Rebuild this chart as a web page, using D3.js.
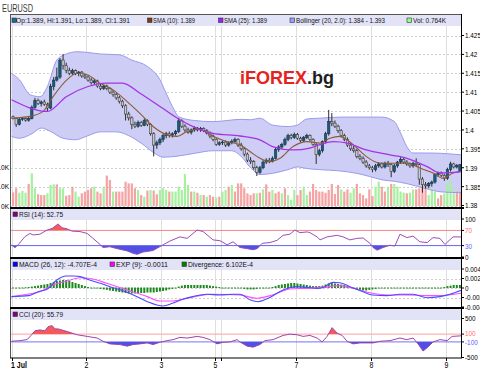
<!DOCTYPE html>
<html><head><meta charset="utf-8">
<script src="https://cdn.jsdelivr.net/npm/d3@7/dist/d3.min.js"></script>
<style>html,body{margin:0;padding:0;background:#fff;}svg{display:block;}text{font-family:"Liberation Sans",Arial,sans-serif;}</style>
</head><body>
<svg id="chart" width="480" height="370"></svg>
<script>
// ---------------- DATA ----------------
const symbol = "EURUSD";
const dayTicks = [0,24,48,65,67,91,115,139];
const dayLabels = ["1 Jul","2","3","5","","7","8","9"];
const priceTicks = [1.38,1.385,1.39,1.395,1.4,1.405,1.41,1.415,1.42,1.425];
const priceLabels = ["1.38","1.385","1.39","1.395","1.4","1.405","1.41","1.415","1.42","1.425"];
const volTicks = [0,1,2];
const volLabels = ["0K","1.0K","2.0K"];
const rsiTicks = [0,30,70,100];
const rsiLabels = ["0","30","70","100"];
const macdTicks = [-0.004,-0.002,0,0.002,0.004];
const macdLabels = ["-0.004","-0.002","0","0.002","0.004"];
const cciTicks = [-500,-100,100,500];
const cciLabels = ["-500","-100","100","500"];

const open = [1.4035,1.4030,1.4015,1.4028,1.4030,1.4026,1.4030,1.4060,1.4078,1.4070,1.4074,1.4068,1.4058,1.4115,1.4132,1.4140,1.4185,1.4170,1.4158,1.4150,
1.4157,1.4150,1.4153,1.4143,1.4140,1.4132,1.4125,1.4130,1.4116,1.4110,1.4116,1.4110,1.4100,1.4094,1.4085,1.4076,1.4064,1.4042,1.4032,1.4015,
1.4010,1.4020,1.4012,1.4025,1.4015,1.3990,1.3960,1.3966,1.3975,1.3985,1.3990,1.3986,1.3990,1.3996,1.4024,1.4010,1.4000,1.3994,1.4000,1.4005,
1.4000,1.4004,1.3998,1.3992,1.3984,1.3975,1.3962,1.3966,1.3968,1.3960,1.3966,1.3970,1.3975,1.3960,1.3950,1.3936,1.3920,1.3916,1.3900,1.3888,
1.3900,1.3915,1.3920,1.3917,1.3925,1.3948,1.3955,1.3962,1.3975,1.3985,1.3980,1.3988,1.3978,1.3972,1.3980,1.3985,1.3975,1.3962,1.3935,1.3945,
1.3970,1.3990,1.4022,1.4018,1.4010,1.3998,1.3985,1.3975,1.3960,1.3950,1.3945,1.3930,1.3925,1.3915,1.3905,1.3900,1.3895,1.3905,1.3910,1.3902,
1.3912,1.3908,1.3890,1.3905,1.3915,1.3922,1.3915,1.3910,1.3905,1.3912,1.3908,1.3870,1.3855,1.3852,1.3858,1.3862,1.3882,1.3886,1.3880,1.3872,
1.3895,1.3910,1.3902,1.3890];
const high = [1.4038,1.4033,1.4032,1.4034,1.4033,1.4036,1.4065,1.4085,1.4083,1.4078,1.4080,1.4072,1.4122,1.4140,1.4165,1.4190,1.4201,1.4178,1.4165,1.4162,
1.4160,1.4156,1.4156,1.4150,1.4145,1.4138,1.4135,1.4133,1.4122,1.4120,1.4120,1.4113,1.4106,1.4098,1.4090,1.4080,1.4068,1.4048,1.4036,1.4022,
1.4025,1.4024,1.4030,1.4028,1.4018,1.3994,1.3972,1.3980,1.3990,1.3995,1.3996,1.3994,1.4000,1.4032,1.4028,1.4015,1.4006,1.4004,1.4010,1.4008,
1.4008,1.4007,1.4002,1.3996,1.3988,1.3978,1.3970,1.3972,1.3972,1.3970,1.3975,1.3980,1.3978,1.3966,1.3955,1.3940,1.3928,1.3920,1.3905,1.3905,
1.3920,1.3925,1.3926,1.3930,1.3952,1.3960,1.3966,1.3980,1.3990,1.3990,1.3993,1.3992,1.3982,1.3984,1.3990,1.3988,1.3978,1.3965,1.3950,1.3972,
1.3995,1.4053,1.4045,1.4025,1.4014,1.4002,1.3990,1.3980,1.3965,1.3958,1.3950,1.3936,1.3930,1.3920,1.3910,1.3905,1.3910,1.3915,1.3914,1.3916,
1.3918,1.3912,1.3910,1.3918,1.3928,1.3926,1.3920,1.3914,1.3916,1.3925,1.3912,1.3875,1.3862,1.3862,1.3866,1.3886,1.3890,1.3890,1.3884,1.3900,
1.3916,1.3913,1.3910,1.3910];
const low = [1.4028,1.4008,1.4012,1.4024,1.4022,1.4022,1.4028,1.4056,1.4066,1.4062,1.4064,1.4048,1.4055,1.4105,1.4128,1.4135,1.4160,1.4150,1.4145,1.4146,
1.4145,1.4142,1.4138,1.4135,1.4128,1.4120,1.4120,1.4112,1.4105,1.4106,1.4105,1.4095,1.4088,1.4080,1.4070,1.4058,1.4025,1.4025,1.4002,1.4005,
1.4006,1.4008,1.4010,1.4010,1.3985,1.3930,1.3950,1.3960,1.3968,1.3978,1.3980,1.3980,1.3985,1.3992,1.4005,1.3995,1.3990,1.3988,1.3995,1.3996,
1.3995,1.3994,1.3988,1.3978,1.3970,1.3958,1.3958,1.3960,1.3955,1.3956,1.3962,1.3965,1.3955,1.3945,1.3930,1.3915,1.3910,1.3895,1.3878,1.3884,
1.3896,1.3910,1.3912,1.3914,1.3922,1.3942,1.3950,1.3958,1.3970,1.3975,1.3976,1.3974,1.3968,1.3968,1.3976,1.3970,1.3958,1.3910,1.3930,1.3940,
1.3965,1.3985,1.4010,1.4005,1.3992,1.3980,1.3970,1.3955,1.3945,1.3940,1.3925,1.3920,1.3910,1.3900,1.3895,1.3888,1.3890,1.3900,1.3898,1.3898,
1.3902,1.3875,1.3886,1.3900,1.3910,1.3910,1.3905,1.3900,1.3900,1.3904,1.3855,1.3834,1.3845,1.3846,1.3850,1.3858,1.3876,1.3875,1.3865,1.3868,
1.3890,1.3898,1.3898,1.3889];
const close = [1.4030,1.4015,1.4028,1.4030,1.4026,1.4030,1.4060,1.4078,1.4070,1.4074,1.4068,1.4058,1.4115,1.4132,1.4140,1.4185,1.4170,1.4158,1.4150,1.4157,
1.4150,1.4153,1.4143,1.4140,1.4132,1.4125,1.4130,1.4116,1.4110,1.4116,1.4110,1.4100,1.4094,1.4085,1.4076,1.4064,1.4042,1.4032,1.4015,1.4010,
1.4020,1.4012,1.4025,1.4015,1.3990,1.3960,1.3966,1.3975,1.3985,1.3990,1.3986,1.3990,1.3996,1.4024,1.4010,1.4000,1.3994,1.4000,1.4005,1.4000,
1.4004,1.3998,1.3992,1.3984,1.3975,1.3962,1.3966,1.3968,1.3960,1.3966,1.3970,1.3975,1.3960,1.3950,1.3936,1.3920,1.3916,1.3900,1.3888,1.3900,
1.3915,1.3920,1.3917,1.3925,1.3948,1.3955,1.3962,1.3975,1.3985,1.3980,1.3988,1.3978,1.3972,1.3980,1.3985,1.3975,1.3962,1.3935,1.3945,1.3970,
1.3990,1.4022,1.4018,1.4010,1.3998,1.3985,1.3975,1.3960,1.3950,1.3945,1.3930,1.3925,1.3915,1.3905,1.3900,1.3895,1.3905,1.3910,1.3902,1.3912,
1.3908,1.3890,1.3905,1.3915,1.3922,1.3915,1.3910,1.3905,1.3912,1.3908,1.3870,1.3855,1.3852,1.3858,1.3862,1.3882,1.3886,1.3880,1.3872,1.3895,
1.3910,1.3902,1.3906,1.3908];
const volume = [0.70,0.91,0.68,0.77,0.68,1.13,1.68,0.91,0.60,0.56,0.56,0.65,1.08,1.11,1.11,0.91,0.91,0.53,0.56,0.99,
0.74,0.48,0.65,0.74,0.82,0.91,0.99,0.74,0.65,0.99,1.56,1.33,0.74,0.74,0.74,0.74,1.25,1.16,1.16,0.91,
0.82,0.56,0.48,0.79,0.82,0.79,0.60,0.82,0.91,0.82,0.74,0.74,0.74,0.99,0.82,1.64,1.08,0.74,0.74,0.68,
0.56,0.56,0.48,0.56,0.48,0.44,0.48,0.74,0.82,0.99,1.08,0.74,1.16,
1.16,0.91,0.65,0.56,0.65,0.65,0.68,0.85,1.11,0.74,0.82,0.65,0.74,0.65,0.91,0.56,0.31,0.82,0.56,0.82,
0.99,0.56,0.74,1.13,0.82,0.74,0.74,0.68,0.82,1.13,0.62,1.08,0.85,0.74,0.85,0.68,0.91,1.13,0.65,0.56,
0.39,0.85,0.51,0.99,1.25,0.99,0.74,0.99,1.13,1.13,0.99,0.74,0.68,0.65,0.68,0.85,0.85,0.91,0.99,0.96,
0.56,0.91,0.74,0.39,0.56,0.65,1.16,1.25,0.82,0.74,0.74];
const volumeUp = [0,0,1,1,1,0,1,1,0,0, 0,1,1,1,0,1,1,0,0,0, 1,1,0,0,0,0,1,0,0,1, 0,0,1,0,0,0,0,0,0,0,
1,0,1,0,1,0,0,1,1,1, 0,1,1,1,1,1,1,0,1,0, 1,0,1,0,0,1,0, 1,1,0,1,0,0,
0,0,0,0,0,1,0,1,0,0, 1,0,0,1,0,1,1,1,0,0, 1,1,0,0,0,0,0,0,0,0, 0,0,1,0,0,1,1,0,0,0,
0,0,0,1,1,0,0,1,0,1, 1,1,1,0,1,1,0,0,0,0, 1,1,1,0,0,1,1,1,1,0, 0];

// Bollinger (20, 2.0) and SMAs: [candle index, price]
const bbUpper = [[-0.5,1.4150],[2,1.4133],[5.5,1.4093],[8.6,1.4088],[11,1.4115],[14,1.4185],[17,1.4201],[20.5,1.4207],[24,1.4205],[28,1.4201],[34,1.4199],[38,1.4185],[43,1.4168],[47,1.4133],[49,1.4097],[51,1.4062],[53,1.4035],[58,1.4025],[64,1.4022],[73,1.4028],[76,1.4027],[79,1.4031],[83,1.4013],[88,1.4009],[91,1.4013],[94,1.4029],[98,1.4031],[105,1.4034],[113,1.4034],[118,1.4034],[122,1.4022],[124,1.3992],[126,1.3956],[128,1.3939],[132,1.3939],[137,1.3938],[143.5,1.3934]];
const bbLower = [[-0.5,1.3983],[2,1.3978],[6,1.3990],[9,1.4005],[12,1.3996],[16,1.3978],[20,1.3974],[24,1.3985],[28,1.3995],[33,1.3995],[37,1.3985],[41,1.3965],[45,1.3940],[48,1.3928],[52,1.3930],[58,1.3938],[64,1.3945],[70,1.3945],[73,1.3930],[76,1.3900],[79,1.3882],[83,1.3885],[88,1.3895],[91,1.3902],[94,1.3898],[98,1.3895],[104,1.3892],[110,1.3885],[114,1.3877],[118,1.3868],[122,1.3864],[126,1.3858],[132,1.3845],[137,1.3836],[143.5,1.3834]];
const sma25 = [[-0.5,1.4080],[11,1.4049],[17,1.4088],[24,1.4115],[30,1.4124],[35,1.4124],[40.6,1.4097],[47,1.4062],[53.4,1.4027],[57.6,1.4009],[64,1.3991],[72.6,1.3984],[79,1.3974],[83,1.3956],[89.6,1.3947],[95,1.3952],[98.2,1.3961],[102.4,1.3969],[107,1.3965],[113,1.3947],[120.6,1.3934],[126,1.3925],[132.5,1.3903],[136.6,1.3886],[143.5,1.3890]];
const sma10 = [[-0.5,1.4031],[5.4,1.4036],[9.6,1.4049],[12.8,1.4088],[17.3,1.4133],[20.5,1.4150],[23.7,1.4146],[27.8,1.4124],[32,1.4106],[36.5,1.4075],[40.6,1.4044],[44.8,1.4009],[49.3,1.3987],[52.5,1.3983],[55.7,1.3996],[59.8,1.4002],[64,1.3983],[68.5,1.3969],[72.6,1.3961],[75.8,1.3943],[79,1.3925],[82.2,1.3916],[85.4,1.3925],[89.6,1.3956],[94.1,1.3969],[98.2,1.3965],[101.4,1.3978],[104.6,1.3983],[108.8,1.3961],[113,1.3930],[117.4,1.3912],[121.6,1.3912],[126,1.3912],[130.2,1.3899],[134.4,1.3886],[137.6,1.3872],[140.8,1.3886],[143.5,1.3890]];

// RSI (14): [candle index, value]
const rsi = [[-0.5,31.6],[0.6,24.6],[1.6,32],[3.8,53.5],[5.4,62],[6.4,58],[8.6,60],[10.9,71],[12.5,75],[14.4,87],[15.7,77],[17.3,74],[18.9,68],[21.4,67],[23.7,62],[25.6,49],[27.8,33],[28.8,25],[31,27],[33.3,22],[36.5,16],[38.4,9.6],[39.7,7],[41.6,13],[44.8,17],[48,32],[50.2,42],[53.4,53],[55.7,49],[58.9,71],[60.8,67],[64,45],[66.2,43],[68.5,32],[70.4,40],[72.6,25],[74.9,22],[76.8,19],[78.1,22],[79.7,36],[82.2,38],[84.5,44],[86.4,57],[88.6,60],[90.2,71],[91.8,64],[94.1,66],[95,64],[97.3,53],[98.2,45],[100.5,53],[103.7,57],[105.6,53],[107.8,45],[110,49],[112,50],[114.2,36],[115.2,25],[116.5,18],[118.4,25],[120.6,31],[122.2,29],[123.8,60],[126,51],[128,55],[130.2,40],[132.5,38],[134.4,51],[136.6,49],[138.2,33],[140.8,53],[143.5,52.75]];

// MACD (26,12), EXP (9) signal: [candle index, value]; divergence per candle
const macd = [[-0.5,-0.00182],[5,-0.00161],[8,-0.00077],[11,-0.00021],[14,0.00168],[17,0.00253],[19.5,0.00253],[21.5,0.00239],[24.5,0.00168],[28,0.00098],[31,0.00028],[34.5,-0.00042],[38.5,-0.00147],[43,-0.00288],[46,-0.00358],[48,-0.00379],[51,-0.00323],[54.5,-0.00232],[57.5,-0.00182],[62,-0.00133],[66,-0.00147],[70.5,-0.00133],[72.6,-0.00133],[76,-0.00253],[78.4,-0.00288],[82,-0.00204],[86.4,-0.00042],[91,0.00028],[94,0.00014],[97.3,-0.00007],[99,0.00007],[102.4,0.00119],[104.6,0.00112],[107.8,0.00028],[112,-0.00077],[115,-0.00147],[119.7,-0.00161],[123.8,-0.00133],[128,-0.00133],[132.5,-0.00204],[136.6,-0.00182],[139.8,-0.00133],[143.5,-0.00047]];
const signal = [[-0.5,-0.00182],[4.5,-0.00133],[8.6,-0.00077],[12.8,0.00063],[17.3,0.00147],[21.4,0.00217],[25.6,0.00189],[30,0.00098],[36.5,-0.00042],[43,-0.00182],[47,-0.00274],[51,-0.00274],[55.7,-0.00217],[59.8,-0.00161],[64,-0.00133],[72.6,-0.00147],[78,-0.00217],[83,-0.00147],[88.6,-0.00021],[94,-0.00007],[99,0.00014],[104.6,0.00049],[108.8,-0.00007],[115,-0.00112],[119.7,-0.00147],[126,-0.00147],[132.5,-0.00161],[136.6,-0.00161],[143.5,-0.00110]];
const divergence = [0.0001,0.0001,0.0001,0.0001,0.00015,0.0002,
0.0003,0.0004,0.0005,0.00063,0.00074,0.00084,
0.00105,0.00126,0.00147,0.00158,0.00168,0.00168,0.00147,
0.00126,0.00105,0.00084,0.00063,0.0004,0.0002,
0,-0.0001,-0.0002,
-0.0003,-0.0004,-0.0005,-0.00063,-0.00074,-0.00084,-0.00095,-0.00105,
-0.00116,-0.00126,-0.00126,-0.00126,-0.00126,-0.00116,-0.00116,-0.00105,-0.00105,-0.00105,-0.00095,
-0.00084,-0.00074,-0.00063,-0.0004,-0.0003,-0.0001,
0.0003,0.0005,0.00063,0.00063,0.00063,0.00063,0.00063,0.00063,0.00063,0.00063,0.0005,0.0004,
0.0003,0.0002,0.0001,0.0001,0.0001,0,-0.0001,-0.0002,
-0.0002,-0.0003,-0.0004,-0.0004,-0.0004,-0.0003,-0.0002,
-0.0001,0,0.0001,0.0002,0.0004,
0.00063,0.00074,0.00084,0.00095,0.00105,0.00105,0.00095,0.00084,0.00074,0.00063,
0.0005,0.0004,0.0004,0.0004,
0.0005,0.00074,0.00095,0.00105,0.00095,0.00084,
0.00074,0.00063,0.0004,0.0002,
-0.0002,-0.0004,-0.0005,-0.00063,-0.00063,-0.0005,-0.0004,-0.0003,
-0.0002,-0.0002,-0.0001,-0.0001,-0.0001,
0.0001,0.0001,0.0001,0.0001,0.0001,0.0001,0.0001,0.0001,-0.0001,-0.0001,-0.0001,-0.0001,-0.0001,-0.0001,0,0.0001,0.0002,
0.0004,0.0005,0.00063,0.00063,0.00063];

// CCI (20): [candle index, value]
const cci = [[-0.5,-84],[2.2,-68],[4.5,-42],[6.1,99],[7,183],[8.6,208],[10.2,183],[11.2,291],[12.5,316],[13.4,233],[14.4,233],[17.3,166],[20.5,83],[23.7,41],[26.9,-1],[28.8,-84],[31,-151],[34.2,-168],[36.5,-209],[38.4,-168],[40.6,-151],[42.9,-126],[44.8,-168],[47,-109],[49.3,-68],[51.2,-42],[53.4,16],[55.7,-1],[58.9,41],[60.8,16],[63,-42],[65.3,-151],[67.2,-109],[69.4,-101],[71.7,-42],[72.6,-101],[74.9,-209],[76.8,-234],[79,-168],[80.6,-68],[83.2,-42],[86.4,66],[88.6,99],[90.9,83],[92.8,41],[95,66],[97.3,-1],[98.9,-101],[100.5,41],[102.1,266],[103.7,124],[105.3,66],[106.9,-84],[108.8,-151],[111,-126],[115.2,-126],[117.4,-84],[120.6,-68],[123.8,-1],[126,-42],[128,-1],[129.6,-151],[131.2,-334],[132.5,-251],[134.4,-101],[136.6,-42],[138.9,-68],[140.5,41],[143.5,56]];

const legendMain = ["Op:1.389, Hi:1.391, Lo:1.389, Cl:1.391","SMA (10): 1.389","SMA (25): 1.389","Bollinger (20, 2.0): 1.384 - 1.393","Vol: 0.764K"];
const legendRsi = ["RSI (14): 52.75"];
const legendMacd = ["MACD (26, 12): -4.707E-4","EXP (9): -0.0011","Divergence: 6.102E-4"];
const legendCci = ["CCI (20): 55.79"];

// ---------------- DRAW ----------------
const svg = d3.select('#chart');
const L = 11, R = 461;
const x = d3.scaleLinear().domain([0,144]).range([11.5,461.5]);
const cx = i => x(i + 0.5);
const yP = d3.scaleLinear().domain([1.38,1.425]).range([205.5,35.5]);
const yV = d3.scaleLinear().domain([0,2]).range([206,167]);
const yR = d3.scaleLinear().domain([0,100]).range([257,219]);
const yM = d3.scaleLinear().domain([-0.004,0.004]).range([307,269]);
const yC = d3.scaleLinear().domain([-500,500]).range([357.5,318.5]);

svg.append('rect').attr('width',480).attr('height',370).attr('fill','#fff');
const defs = svg.append('defs');
function clipRect(id,y0,y1){ defs.append('clipPath').attr('id',id).append('rect').attr('x',L).attr('y',y0).attr('width',R-L).attr('height',y1-y0); return `url(#${id})`; }

function txt(p, xx, yy, s, o={}) {
  const t = p.append('text').attr('x',xx).attr('y',yy)
    .attr('font-size',o.size||8).attr('fill',o.fill||'#000')
    .attr('font-weight',o.weight||'normal').attr('text-anchor',o.anchor||'start').text(s);
  if (o.w) t.attr('textLength',o.w).attr('lengthAdjust','spacingAndGlyphs');
  if (o.sx) t.attr('transform',`translate(${xx},${yy}) scale(${o.sx},1) translate(${-xx},${-yy})`);
  return t;
}

// horizontal grid
const grid = svg.append('g').attr('stroke','#cfcfcf').attr('stroke-width',1).attr('stroke-dasharray','2,2');
const hline = (yy)=>grid.append('line').attr('x1',L).attr('x2',R).attr('y1',Math.round(yy)+0.5).attr('y2',Math.round(yy)+0.5);
priceTicks.forEach(v=>hline(yP(v)));
hline(yR(100));
macdTicks.forEach(v=>hline(yM(v)));
hline(yC(500));
// vertical grid
const vg = svg.append('g').attr('stroke','#dedede').attr('stroke-width',1);
dayTicks.forEach(d=>vg.append('line').attr('x1',Math.round(x(d))+0.5).attr('x2',Math.round(x(d))+0.5).attr('y1',14).attr('y2',358));

// ---- main panel
const main = svg.append('g').attr('clip-path',clipRect('cmain',15,207));
const lineGen = d3.line().curve(d3.curveMonotoneX);
const upPts = bbUpper.map(d=>[cx(d[0]),yP(d[1])]);
const loPts = bbLower.map(d=>[cx(d[0]),yP(d[1])]);
const upPath = lineGen(upPts), loPath = lineGen(loPts);
// closed band polygon: sample both smoothed edges
const upDense = [], loDense = [];
(function(){
  const tmp = svg.append('path').attr('d',upPath).attr('fill','none');
  let n = tmp.node(), len = n.getTotalLength();
  for (let s=0;s<=len;s+=1){const p=n.getPointAtLength(s); upDense.push([p.x,p.y]);}
  tmp.attr('d',loPath); n=tmp.node(); len=n.getTotalLength();
  for (let s=0;s<=len;s+=1){const p=n.getPointAtLength(s); loDense.push([p.x,p.y]);}
  tmp.remove();
})();
main.append('path').attr('d',d3.line()(upDense.concat(loDense.reverse()))+'Z').attr('fill','#cdcdf5').attr('stroke','none');

// volume
main.append('g').selectAll('rect').data(volume).join('rect')
  .attr('x',(d,i)=>cx(i)-1.1).attr('width',2.2)
  .attr('y',d=>yV(d)).attr('height',d=>yV(0)-yV(d))
  .attr('fill',(d,i)=>volumeUp[i]?'#a6f0a0':'#f5a3a3');

main.append('path').attr('d',upPath).attr('fill','none').attr('stroke','#9a9aee').attr('stroke-width',1);
main.append('path').attr('d',loPath).attr('fill','none').attr('stroke','#9a9aee').attr('stroke-width',1);

// candles
const cg = main.append('g');
close.forEach((c,i)=>{
  const o=open[i], up = c>=o, xc = cx(i);
  cg.append('line').attr('x1',xc).attr('x2',xc).attr('y1',yP(high[i])).attr('y2',yP(low[i])).attr('stroke','#1a1a1a').attr('stroke-width',0.9);
  const yt = yP(Math.max(o,c)), yb = yP(Math.min(o,c));
  cg.append('rect').attr('x',xc-1.2).attr('width',2.4).attr('y',yt).attr('height',Math.max(yb-yt,0.8))
    .attr('fill', up?'#1d5b7c':'#c9c9c9').attr('stroke', up?'#12364a':'#3a3a3a').attr('stroke-width',0.6);
});
main.append('path').attr('d',lineGen(sma10.map(d=>[cx(d[0]),yP(d[1])]))).attr('fill','none').attr('stroke','#8d5a36').attr('stroke-width',1.1);
main.append('path').attr('d',lineGen(sma25.map(d=>[cx(d[0]),yP(d[1])]))).attr('fill','none').attr('stroke','#a532e6').attr('stroke-width',1.3);

// ---- threshold fill helper
function thrFill(g, pts, yS, thr, above, color, id, top, bot){
  const yt = yS(thr);
  const cp = above ? clipRect(id, top, yt) : clipRect(id, yt, bot);
  g.append('path').attr('clip-path',cp)
    .attr('d', d3.area().x(d=>cx(d[0])).y0(yt).y1(d=>yS(d[1]))(pts))
    .attr('fill',color);
}

// ---- RSI
const rg = svg.append('g').attr('clip-path',clipRect('crsi',209,257.5));
rg.append('line').attr('x1',L).attr('x2',R).attr('y1',yR(70)).attr('y2',yR(70)).attr('stroke','#f89a9a');
rg.append('line').attr('x1',L).attr('x2',R).attr('y1',yR(30)).attr('y2',yR(30)).attr('stroke','#6f6ff5');
thrFill(rg, rsi, yR, 70, true, '#f45a5a', 'rs1', 209, 258);
thrFill(rg, rsi, yR, 30, false, '#5050e6', 'rs2', 209, 258);
rg.append('path').attr('d',d3.line().x(d=>cx(d[0])).y(d=>yR(d[1]))(rsi)).attr('fill','none').attr('stroke','#9b4db5').attr('stroke-width',1);

// ---- MACD
const mg = svg.append('g').attr('clip-path',clipRect('cmacd',259,307.5));
mg.append('g').selectAll('rect').data(divergence).join('rect')
  .attr('x',(d,i)=>cx(i)-1).attr('width',2)
  .attr('y',d=>Math.min(yM(d),yM(0)-0.5)).attr('height',d=>Math.max(Math.abs(yM(d)-yM(0)),1))
  .attr('fill','#1d8a1d');
mg.append('path').attr('d',d3.line().curve(d3.curveMonotoneX).x(d=>cx(d[0])).y(d=>yM(d[1]))(signal)).attr('fill','none').attr('stroke','#ff4cff').attr('stroke-width',1.1);
mg.append('path').attr('d',d3.line().curve(d3.curveMonotoneX).x(d=>cx(d[0])).y(d=>yM(d[1]))(macd)).attr('fill','none').attr('stroke','#4a4aff').attr('stroke-width',1.1);

// ---- CCI
const ccg = svg.append('g').attr('clip-path',clipRect('ccci',309,357.5));
ccg.append('line').attr('x1',L).attr('x2',R).attr('y1',yC(100)).attr('y2',yC(100)).attr('stroke','#ffb2b2').attr('stroke-width',1.2);
ccg.append('line').attr('x1',L).attr('x2',R).attr('y1',yC(-100)).attr('y2',yC(-100)).attr('stroke','#7373f2');
thrFill(ccg, cci, yC, 100, true, '#f45a5a', 'cc1', 309, 358);
thrFill(ccg, cci, yC, -100, false, '#5050e6', 'cc2', 309, 358);
ccg.append('path').attr('d',d3.line().x(d=>cx(d[0])).y(d=>yC(d[1]))(cci)).attr('fill','none').attr('stroke','#a043a8').attr('stroke-width',1);

// ---- headers
function header(y, items){
  svg.append('rect').attr('x',L).attr('y',y).attr('width',R-L).attr('height',11).attr('fill','#e3e3f8');
  items.forEach(it=>{
    svg.append('rect').attr('x',it.sq).attr('y',y+3).attr('width',4.5).attr('height',4.5).attr('fill',it.c).attr('stroke','#333').attr('stroke-width',0.6);
    txt(svg, it.tx, y+8.3, it.s, {size:7, w:it.w, fill:'#111'});
  });
}
header(15, [
  {sq:12, c:'#1e6b8c', tx:16, w:114, s:legendMain[0]},
  {sq:147.5, c:'#7a3b12', tx:153, w:42, s:legendMain[1]},
  {sq:218.5, c:'#a020f0', tx:224, w:43, s:legendMain[2]},
  {sq:290, c:'#9d9dff', tx:296, w:89, s:legendMain[3]},
  {sq:407, c:'#8cff8c', tx:413, w:33, s:legendMain[4]}
]);
header(209, [{sq:13, c:'#800080', tx:19, w:44, s:legendRsi[0]}]);
header(259, [
  {sq:13, c:'#0000ff', tx:19, w:78, s:legendMacd[0]},
  {sq:110, c:'#ff00ff', tx:116, w:52, s:legendMacd[1]},
  {sq:182, c:'#008000', tx:188, w:65, s:legendMacd[2]}
]);
header(309, [{sq:13, c:'#800080', tx:19, w:44, s:legendCci[0]}]);

// ---- frames / separators
const fr = svg.append('g');
fr.append('line').attr('x1',L-0.5).attr('x2',R).attr('y1',14.5).attr('y2',14.5).attr('stroke','#555');
fr.append('line').attr('x1',L-0.5).attr('x2',L-0.5).attr('y1',14).attr('y2',358).attr('stroke','#555');
[208,258,308].forEach(y=>fr.append('line').attr('x1',L-1).attr('x2',R+3).attr('y1',y).attr('y2',y).attr('stroke','#000').attr('stroke-width',2));
fr.append('line').attr('x1',L-1).attr('x2',R+1).attr('y1',358).attr('y2',358).attr('stroke','#000').attr('stroke-width',1.2);
fr.append('line').attr('x1',R+0.5).attr('x2',R+0.5).attr('y1',14).attr('y2',358).attr('stroke','#000');

// right axes
function rightAxis(scale, ticks, labels, colors, dy){
  ticks.forEach((v,k)=>{
    const yy = scale(v);
    fr.append('line').attr('x1',R).attr('x2',R+3).attr('y1',yy).attr('y2',yy).attr('stroke','#000');
    txt(fr, R+4, yy+3+((dy&&dy[k])||0), labels[k], {size:7.6, sx:0.84, fill:(colors&&colors[k])||'#000'});
  });
}
rightAxis(yP, priceTicks, priceLabels);
rightAxis(yR, rsiTicks, rsiLabels, ['#000','#6060ff','#ff7070','#000']);
rightAxis(yM, macdTicks, macdLabels);
rightAxis(yC, cciTicks, cciLabels, ['#000','#6060ff','#ff7070','#000'], [0,0.6,-0.6,0]);
// left volume labels
volTicks.forEach((v,k)=>txt(fr, 9, yV(v)+3, volLabels[k], {size:8, sx:0.82, anchor:'end'}));

// bottom day axis
dayTicks.forEach((d,k)=>{
  const xx = Math.round(x(d))+0.5;
  fr.append('line').attr('x1',xx).attr('x2',xx).attr('y1',358).attr('y2',361).attr('stroke','#000');
  if (dayLabels[k]) txt(fr, k===0?xx-1.5:xx, 368.5, dayLabels[k], {size:8.5, sx:0.82, anchor:k===0?'start':'middle', weight:k===0?'bold':'normal'});
});

// title & logo
txt(svg, 2, 11.5, symbol, {size:10, w:31, fill:'#3a3a3a'});
const logo = svg.append('text').attr('x',240).attr('y',83.5).attr('font-size',18).attr('font-weight','bold');
logo.append('tspan').attr('fill','#e5221d').text('iFOREX');
logo.append('tspan').attr('fill','#1e1e1e').text('.bg');
</script>
</body></html>
